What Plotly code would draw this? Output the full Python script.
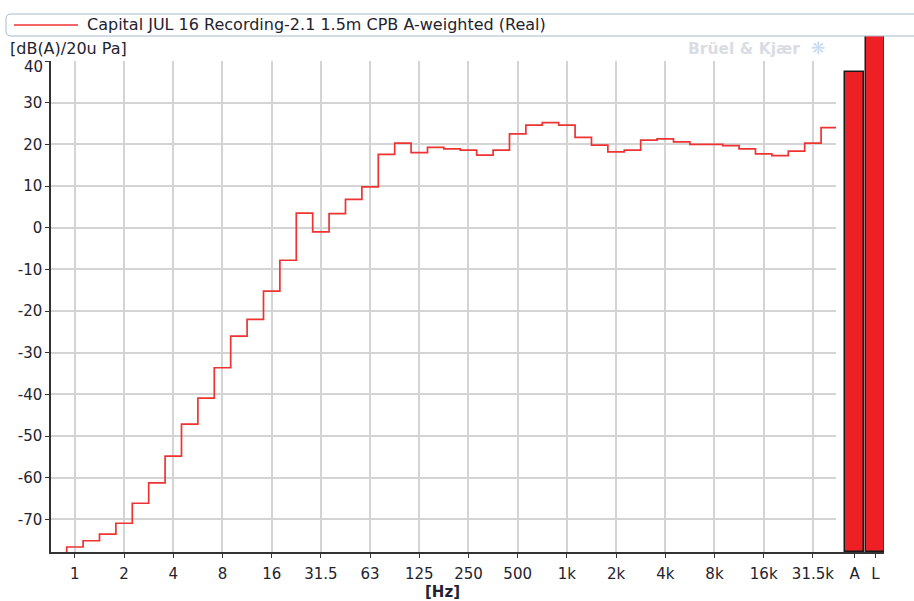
import plotly.graph_objects as go

# ---------------- data ----------------
band_labels = ["1", "1.25", "1.6", "2", "2.5", "3.15", "4", "5", "6.3", "8", "10", "12.5",
               "16", "20", "25", "31.5", "40", "50", "63", "80", "100", "125", "160", "200",
               "250", "315", "400", "500", "630", "800", "1k", "1.25k", "1.6k", "2k", "2.5k",
               "3.15k", "4k", "5k", "6.3k", "8k", "10k", "12.5k", "16k", "20k", "25k",
               "31.5k", "40k"]
levels = [-76.6, -75.1, -73.5, -70.9, -66.1, -61.2, -54.8, -47.1, -40.9, -33.6, -26.0, -22.0,
          -15.2, -7.8, 3.5, -1.0, 3.4, 6.8, 9.8, 17.6, 20.3, 18.0, 19.3, 18.9,
          18.6, 17.4, 18.6, 22.5, 24.6, 25.2, 24.6, 21.7, 19.8, 18.2, 18.6,
          21.0, 21.3, 20.6, 20.0, 20.0, 19.7, 18.9, 17.7, 17.3, 18.4,
          20.3, 24.0]
overall_labels = ["A", "L"]
overall_values = [37.3, 47.0]
y_ticks = [-70, -60, -50, -40, -30, -20, -10, 0, 10, 20, 30, 40]
series_name = "Capital JUL 16 Recording-2.1 1.5m CPB A-weighted (Real)"

# ---------------- geometry ----------------
W, H = 914, 601
ML, MR, MT, MB = 51, 30, 36, 49
PW = W - ML - MR
PH = H - MT - MB
Y_MIN, Y_MAX = -77.8, 40.0
Y2_MAX = 46.0

def px(x):
    return (x - ML) / PW

def py(y):
    return (H - MB - y) / PH

RED = "#ee3333"
BAR_RED = "#ee1f25"
TXT = "#23232e"
FONT = "DejaVu Sans"

# step line through band edges
n = len(levels)
xs = [-0.5] + [i - 0.5 for i in range(n)] + [n - 0.5]
ys = [Y_MIN - 10] + levels + [levels[-1]]

oct_idx = list(range(0, n, 3))

fig = go.Figure()
fig.add_trace(go.Scatter(x=xs, y=ys, mode="lines", line=dict(color=RED, width=1.7, shape="hv"),
                         xaxis="x", yaxis="y", showlegend=False, hoverinfo="skip"))
fig.add_trace(go.Bar(x=overall_labels, y=[v - Y_MIN for v in overall_values], base=Y_MIN,
                     width=0.92,
                     marker=dict(color=BAR_RED, line=dict(color="#1a1a1a", width=1.5)),
                     xaxis="x2", yaxis="y2", showlegend=False, hoverinfo="skip"))

# top tick label is drawn slightly lower (as in the reference) via an annotation
y_ticktext = [str(v) if v != y_ticks[-1] else "" for v in y_ticks]

x1_right = 836
x1_dom = (x1_right - ML) / PW
fig.update_layout(
    width=W, height=H,
    margin=dict(l=ML, r=MR, t=MT, b=MB),
    paper_bgcolor="white", plot_bgcolor="white",
    font=dict(family=FONT, size=15, color=TXT),
    xaxis=dict(domain=[0, x1_dom], range=[-1.457, 46.41], tickmode="array",
               tickvals=oct_idx, ticktext=[band_labels[i] for i in oct_idx],
               showgrid=True, gridcolor="#d4d4d4", gridwidth=1.5,
               showline=True, linecolor="#333333", linewidth=1.5,
               ticks="outside", ticklen=4, tickcolor="#333333",
               tickfont=dict(size=15, color=TXT), ticklabelstandoff=3,
               zeroline=False, anchor="y", automargin=False),
    yaxis=dict(domain=[0, py(61)], range=[Y_MIN, Y_MAX], tickmode="array", tickvals=y_ticks,
               ticktext=y_ticktext,
               showgrid=True, gridcolor="#d4d4d4", gridwidth=1.5,
               showline=True, linecolor="#333333", linewidth=1.5,
               ticks="outside", ticklen=4, tickcolor="#333333",
               tickfont=dict(size=15, color=TXT), zeroline=False, anchor="x",
               automargin=False),
    xaxis2=dict(domain=[x1_dom, 1], range=[-0.902, 1.41], type="category",
                showgrid=False, showline=True, linecolor="#333333", linewidth=1.5,
                ticks="outside", ticklen=4, tickcolor="#333333",
                tickfont=dict(size=15, color=TXT), ticklabelstandoff=3, anchor="y2",
                automargin=False),
    yaxis2=dict(domain=[0, 1], range=[Y_MIN, Y2_MAX], showgrid=False, showticklabels=False,
                showline=False, zeroline=False, anchor="x2", automargin=False),
    bargap=0,
)
fig.add_annotation(text=str(y_ticks[-1]), xref="paper", yref="paper", x=px(45), y=py(67),
                   xanchor="right", yanchor="middle", showarrow=False,
                   font=dict(family=FONT, size=15, color=TXT))

# legend box (rounded rectangle)
x0, y0, x1b, y1b, r = 6, 14, 940, 36, 5
path = (f"M {px(x0 + r)},{py(y0)} L {px(x1b - r)},{py(y0)} "
        f"Q {px(x1b)},{py(y0)} {px(x1b)},{py(y0 + r)} L {px(x1b)},{py(y1b - r)} "
        f"Q {px(x1b)},{py(y1b)} {px(x1b - r)},{py(y1b)} L {px(x0 + r)},{py(y1b)} "
        f"Q {px(x0)},{py(y1b)} {px(x0)},{py(y1b - r)} L {px(x0)},{py(y0 + r)} "
        f"Q {px(x0)},{py(y0)} {px(x0 + r)},{py(y0)} Z")
fig.add_shape(type="path", path=path, xref="paper", yref="paper",
              line=dict(color="#a8b8cc", width=1), fillcolor="rgba(0,0,0,0)", layer="above")
fig.add_shape(type="line", xref="paper", yref="paper", x0=px(14), x1=px(78), y0=py(25), y1=py(25),
              line=dict(color=RED, width=1.7))
fig.add_annotation(text=series_name, xref="paper", yref="paper", x=px(85), y=py(25),
                   xanchor="left", yanchor="middle", showarrow=False,
                   font=dict(family=FONT, size=16, color=TXT))

# axis titles and watermark
fig.add_annotation(text="[dB(A)/20u Pa]", xref="paper", yref="paper", x=px(8), y=py(48),
                   xanchor="left", yanchor="middle", showarrow=False,
                   font=dict(family=FONT, size=16, color=TXT))
fig.add_annotation(text="<b>[Hz]</b>", xref="paper", yref="paper", x=px(442), y=py(592),
                   xanchor="center", yanchor="middle", showarrow=False,
                   font=dict(family=FONT, size=15, color=TXT))
fig.add_annotation(text="<b>Brüel &amp; Kjær</b>", xref="paper", yref="paper", x=px(686), y=py(49),
                   xanchor="left", yanchor="middle", showarrow=False,
                   font=dict(family=FONT, size=15.5, color="#d9dde3"))
fig.add_annotation(text="❋", xref="paper", yref="paper", x=px(818), y=py(48),
                   xanchor="center", yanchor="middle", showarrow=False,
                   font=dict(family=FONT, size=17, color="#c7dbf2"))

fig.write_html("out.html", config={"displayModeBar": False},
               post_script="document.body.style.margin='0px';")
